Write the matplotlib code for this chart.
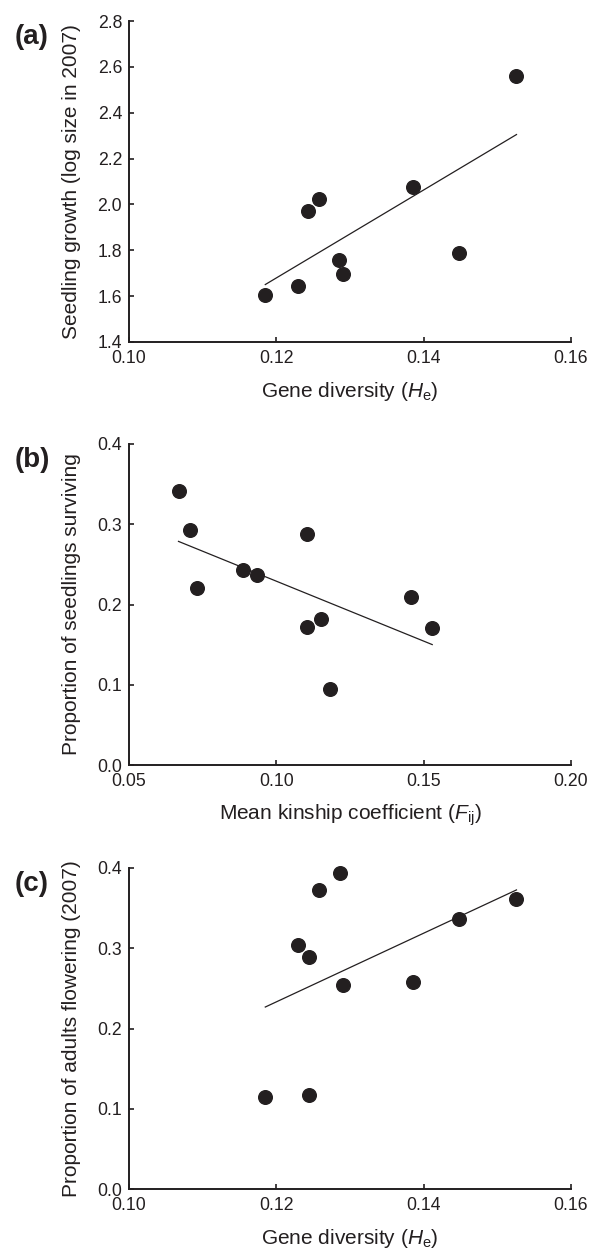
import numpy as np
import matplotlib
matplotlib.use("Agg")
import matplotlib.pyplot as plt
from matplotlib.ticker import FormatStrFormatter

plt.rcParams['font.family'] = ['Liberation Sans', 'DejaVu Sans']
plt.rcParams['mathtext.fontset'] = 'custom'
plt.rcParams['mathtext.rm'] = 'Liberation Sans'
plt.rcParams['mathtext.it'] = 'Liberation Sans:italic'

INK = '#231f20'

# (a) seedling growth vs gene diversity
he_growth = [0.1185, 0.1229, 0.1243, 0.1258, 0.1285, 0.1290, 0.1385, 0.1448, 0.1526]
growth = [1.605, 1.643, 1.973, 2.025, 1.756, 1.698, 2.077, 1.790, 2.560]

# (b) seedling survival vs mean kinship
kinship = [0.0668, 0.0706, 0.0732, 0.0887, 0.0936, 0.1105, 0.1105, 0.1151, 0.1183, 0.1456, 0.1529]
survival = [0.3416, 0.2923, 0.2207, 0.2430, 0.2369, 0.2882, 0.1718, 0.1822, 0.0944, 0.2095, 0.1706]

# (c) adult flowering vs gene diversity
he_flower = [0.1185, 0.1229, 0.1244, 0.1245, 0.1258, 0.1286, 0.1290, 0.1385, 0.1448, 0.1526]
flowering = [0.115, 0.3036, 0.2887, 0.1175, 0.3731, 0.3938, 0.2540, 0.2577, 0.3363, 0.3611]

panels = [
    dict(letter='(a)', x=he_growth, y=growth,
         xlim=(0.10, 0.16), xticks=[0.10, 0.12, 0.14, 0.16], xfmt='%.2f',
         ylim=(1.4, 2.8), yticks=[1.4, 1.6, 1.8, 2.0, 2.2, 2.4, 2.6, 2.8], yfmt='%.1f',
         xlabel=r'Gene diversity ($\mathit{H}_\mathrm{e}$)',
         ylabel='Seedling growth (log size in 2007)'),
    dict(letter='(b)', x=kinship, y=survival,
         xlim=(0.05, 0.20), xticks=[0.05, 0.10, 0.15, 0.20], xfmt='%.2f',
         ylim=(0.0, 0.4), yticks=[0.0, 0.1, 0.2, 0.3, 0.4], yfmt='%.1f',
         xlabel=r'Mean kinship coefficient ($\mathit{F}_\mathrm{ij}$)',
         ylabel='Proportion of seedlings surviving'),
    dict(letter='(c)', x=he_flower, y=flowering,
         xlim=(0.10, 0.16), xticks=[0.10, 0.12, 0.14, 0.16], xfmt='%.2f',
         ylim=(0.0, 0.4), yticks=[0.0, 0.1, 0.2, 0.3, 0.4], yfmt='%.1f',
         xlabel=r'Gene diversity ($\mathit{H}_\mathrm{e}$)',
         ylabel='Proportion of adults flowering (2007)'),
]

W, H = 600, 1249
fig = plt.figure(figsize=(W / 100, H / 100), dpi=100)

left, right = 129, 571
tops = [21, 444, 868]
height = 321

for p, top in zip(panels, tops):
    ax = fig.add_axes([left / W, 1 - (top + height) / H, (right - left) / W, height / H])
    x = np.asarray(p['x'])
    y = np.asarray(p['y'])

    # least-squares trend line over the observed range
    slope, intercept = np.polyfit(x, y, 1)
    xs = np.array([x.min(), x.max()])
    ax.plot(xs, slope * xs + intercept, color=INK, lw=0.9, zorder=2)
    ax.plot(x, y, 'o', ms=9.8, color=INK, mec=INK, zorder=3, clip_on=False)

    ax.set_xlim(*p['xlim'])
    ax.set_ylim(*p['ylim'])
    ax.set_xticks(p['xticks'])
    ax.set_yticks(p['yticks'])
    ax.xaxis.set_major_formatter(FormatStrFormatter(p['xfmt']))
    ax.yaxis.set_major_formatter(FormatStrFormatter(p['yfmt']))

    for s in ('top', 'right'):
        ax.spines[s].set_visible(False)
    for s in ('left', 'bottom'):
        ax.spines[s].set_linewidth(1.4)
        ax.spines[s].set_color(INK)

    ax.tick_params(direction='in', length=3.8, width=1.2, colors=INK,
                   labelsize=12.7, labelcolor=INK)
    ax.tick_params(axis='y', pad=5)
    ax.tick_params(axis='x', pad=6)

    ax.set_xlabel(p['xlabel'], fontsize=15, color=INK)
    ax.set_ylabel(p['ylabel'], fontsize=15, color=INK)
    ax.xaxis.set_label_coords(0.5, -0.118)
    ax.yaxis.set_label_coords(-0.108, 0.5)

    fig.text(15 / W, 1 - (top + 16) / H, p['letter'], fontsize=20,
             fontweight='bold', color=INK, ha='left', va='center')

fig.savefig('out.png', dpi=100, facecolor='white')
